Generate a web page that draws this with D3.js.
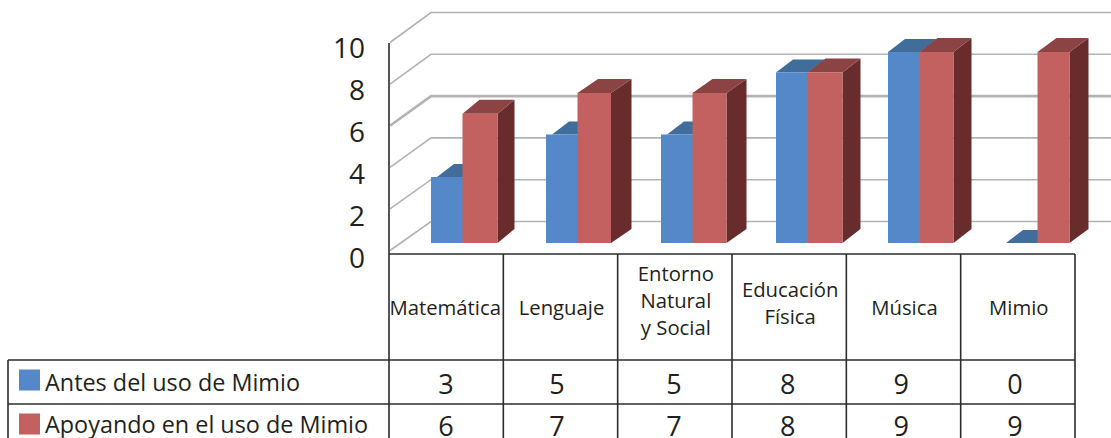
<!DOCTYPE html>
<html><head><meta charset="utf-8">
<script src="https://cdnjs.cloudflare.com/ajax/libs/d3/7.8.5/d3.min.js"></script>
<style>html,body{margin:0;padding:0;background:#fff;overflow:hidden}svg{display:block}text{font-family:"Open Sans",sans-serif;fill:#231f20}</style>
</head><body><svg id="c" width="1111" height="438"></svg>
<script>
const categories = [["Matemática"],["Lenguaje"],["Entorno","Natural","y Social"],["Educación","Física"],["Música"],["Mimio"]];
const seriesNames = ["Antes del uso de Mimio","Apoyando en el uso de Mimio"];
const antes = [3,5,5,8,9,0];
const apoyando = [6,7,7,8,9,9];
const yTicks = [0,2,4,6,8,10];

const svg = d3.select("#c");
const idx = d3.range(categories.length);
const col = d3.scaleBand().domain(idx).range([389,1075]);
// value scales: back wall, front edge of floor, tick labels, bars (projection calibrated to the picture)
const yBack = d3.scaleLinear().domain([0,10]).range([221.5,12.5]);
const yFront = d3.scaleLinear().domain([0,10]).range([250.5,42.5]);
const yLabel = d3.scaleLinear().domain([0,10]).range([257,47]);
const yBar = d3.scaleLinear().domain([0,3,5,7,9]).range([243,177,134.5,93,52]);
const xBar = d3.scaleLinear().domain([0,3,4,5]).range([431,776,888,1006]);
const xVal = d3.scaleLinear().domain([0,1,2,5]).range([446,557,674,1015]);
const backX = 431, frontX = 390, rightX = 1111;
const blueW = 32, redOff = 31.5;
const redWidths = [35,33.5,34,35,34,32];
const redDepths = [17,20.5,20,18,18,19];
const c = {blue:"#5588c9",blueTop:"#416d9d",red:"#c36060",redTop:"#8c4343",redSide:"#682c2c",grid:"#b3b3b3",line:"#2b2b2b"};

// gridlines
const gl = svg.append("g").attr("fill","none").attr("stroke",c.grid);
yTicks.forEach(t=>{
  gl.append("path").attr("stroke-width",t===6?2.6:1.6)
    .attr("d",d3.line()([[frontX,yFront(t)],[backX,yBack(t)],[rightX,yBack(t)]]));
});
// y labels
svg.append("g").selectAll("text").data(yTicks).join("text")
  .attr("x",365).attr("y",d=>yLabel(d)).attr("text-anchor","end").attr("dominant-baseline","central")
  .attr("font-size",28).text(d=>d);

const poly = d3.line();
const bx=17, by=13, ry=14;
// bars
idx.forEach(i=>{
  const x=xBar(i), v=antes[i], y=yBar(v), b=yBar(0);
  const inset = (v>0 && v<8) ? 6 : 0;
  svg.append("path").attr("fill",c.blueTop)
    .attr("d",poly([[x+inset,y],[x+inset+bx,y-by],[x+blueW+bx,y-by],[x+blueW,y]])+"Z");
  svg.append("rect").attr("x",x).attr("y",y).attr("width",blueW).attr("height",b-y).attr("fill",c.blue);
  const xr=x+redOff, vr=apoyando[i], yr=yBar(vr), redW=redWidths[i], rx=redDepths[i];
  svg.append("path").attr("fill",c.redSide)
    .attr("d",poly([[xr+redW,yr],[xr+redW+rx,yr-ry],[xr+redW+rx,b-ry],[xr+redW,b]])+"Z");
  svg.append("path").attr("fill",c.redTop)
    .attr("d",poly([[xr,yr],[xr+rx,yr-ry],[xr+redW+rx,yr-ry],[xr+redW,yr]])+"Z");
  svg.append("rect").attr("x",xr).attr("y",yr).attr("width",redW).attr("height",b-yr).attr("fill",c.red);
});

// data table
const T = {top:254,row1:360,row2:404,bottom:438,left:8};
const t = svg.append("g").attr("stroke",c.line).attr("stroke-width",1.6).attr("fill","none");
t.append("line").attr("x1",frontX-1).attr("x2",frontX-1).attr("y1",43).attr("y2",T.top);
t.append("line").attr("x1",389).attr("x2",1075).attr("y1",T.top).attr("y2",T.top);
[T.row1,T.row2].forEach(y=>t.append("line").attr("x1",T.left).attr("x2",1075).attr("y1",y).attr("y2",y));
t.append("line").attr("x1",T.left).attr("x2",T.left).attr("y1",T.row1).attr("y2",T.bottom);
idx.concat([idx.length]).forEach(i=>{
  const x = i<idx.length ? col(i) : 1075;
  t.append("line").attr("x1",x).attr("x2",x).attr("y1",T.top).attr("y2",T.bottom);
});
// category labels
const lh=27;
const labelMid = k => k===3 ? 300 : k===2 ? 302.5 : 307;
idx.forEach(i=>{
  const ls=categories[i], cx=col(i)+col.bandwidth()/2+(i===0?-1:1);
  ls.forEach((l,k)=>svg.append("text").attr("x",cx).attr("y",labelMid(ls.length)+(k-(ls.length-1)/2)*lh)
    .attr("text-anchor","middle").attr("dominant-baseline","central").attr("font-size",20.3).text(l));
});
// rows
[[antes,382,c.blue,369.5],[apoyando,424,c.red,413.5]].forEach((r,ri)=>{
  svg.append("rect").attr("x",19).attr("y",r[3]).attr("width",21).attr("height",21).attr("fill",r[2]);
  svg.append("text").attr("x",45).attr("y",r[1]).attr("dominant-baseline","central").attr("font-size",23.4).text(seriesNames[ri]);
  idx.forEach(i=>svg.append("text").attr("x",xVal(i)).attr("y",r[1]+1)
    .attr("text-anchor","middle").attr("dominant-baseline","central").attr("font-size",27).text(r[0][i]));
});
</script></body></html>
